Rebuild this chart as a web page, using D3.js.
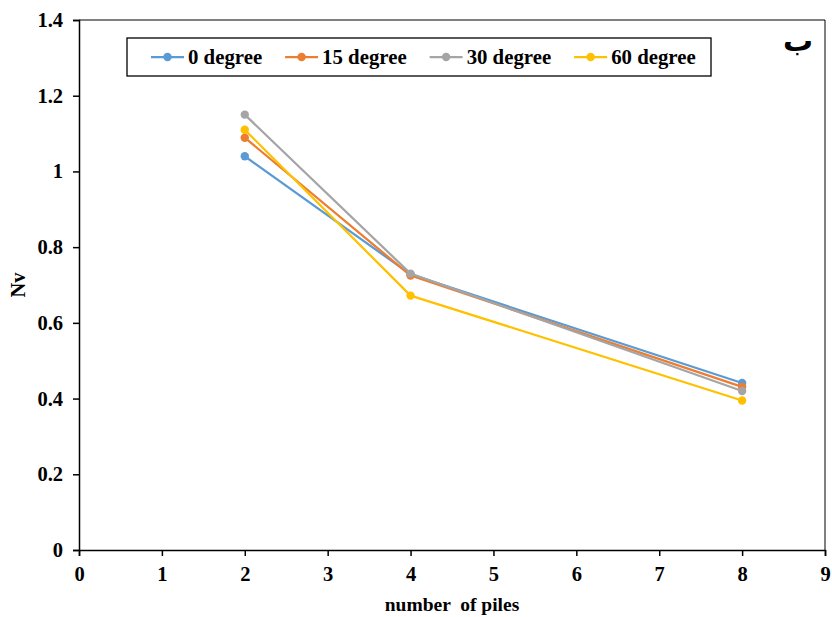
<!DOCTYPE html>
<html>
<head>
<meta charset="utf-8">
<script src="https://cdn.jsdelivr.net/npm/d3@7"></script>
<style>
  html, body { margin: 0; padding: 0; background: #fff; }
  text { font-family: "Liberation Serif", "Times New Roman", serif; font-weight: bold; fill: #000; }
</style>
</head>
<body>
<svg id="chart" width="832" height="617"></svg>
<script>
// ---- data ----
const xValues = [2, 4, 8];
const seriesNames = ["0 degree", "15 degree", "30 degree", "60 degree"];
const series0 = [1.04, 0.728, 0.441];
const series15 = [1.089, 0.725, 0.431];
const series30 = [1.15, 0.730, 0.420];
const series60 = [1.11, 0.672, 0.395];
const seriesColors = ["#5B9BD5", "#ED7D31", "#A5A5A5", "#FFC000"];
const xTicks = [0, 1, 2, 3, 4, 5, 6, 7, 8, 9];
const yTicks = [0, 0.2, 0.4, 0.6, 0.8, 1, 1.2, 1.4];
const xTitle = "number  of piles";
const yTitle = "Nv";
const cornerMark = "ب";

const allSeries = [series0, series15, series30, series60];

const svg = d3.select("#chart");
const pLeft = 79, pRight = 825, pTop = 20, pBottom = 550;

const x = d3.scaleLinear().domain([0, 9]).range([pLeft, pRight]);
const y = d3.scaleLinear().domain([0, 1.4]).range([pBottom, pTop]);

// frame (top & right)
svg.append("line").attr("x1", pLeft).attr("x2", pRight).attr("y1", pTop).attr("y2", pTop)
  .attr("stroke", "#000").attr("stroke-width", 1);
svg.append("line").attr("x1", pRight).attr("x2", pRight).attr("y1", pTop).attr("y2", pBottom)
  .attr("stroke", "#000").attr("stroke-width", 1);

// axes
const xAxis = d3.axisBottom(x).tickValues(xTicks).tickSize(6).tickPadding(10).tickFormat(d3.format("d"));
const yAxis = d3.axisLeft(y).tickValues(yTicks).tickSize(6).tickPadding(10).tickFormat(d => d3.format("")(d));

const gx = svg.append("g").attr("transform", `translate(0,${pBottom})`).call(xAxis);
const gy = svg.append("g").attr("transform", `translate(${pLeft},0)`).call(yAxis);
[gx, gy].forEach(g => {
  g.select(".domain").attr("stroke", "#000").attr("stroke-width", 1.5);
  g.selectAll(".tick line").attr("stroke", "#000").attr("stroke-width", 1.5);
  g.selectAll(".tick text").style("font-family", '"Liberation Serif", serif')
    .style("font-weight", "bold").style("font-size", "20.5px").attr("fill", "#000");
});

// axis titles
svg.append("text").attr("x", (pLeft + pRight) / 2).attr("y", 611)
  .attr("text-anchor", "middle").style("font-size", "19.5px").style("white-space", "pre")
  .attr("xml:space", "preserve").text(xTitle);
svg.append("text").attr("transform", `translate(25,${(pTop + pBottom) / 2}) rotate(-90)`)
  .attr("text-anchor", "middle").style("font-size", "20.5px").text(yTitle);

// lines
const line = d3.line().x((d, i) => x(xValues[i])).y(d => y(d));
allSeries.forEach((s, k) => {
  const g = svg.append("g");
  g.append("path").datum(s).attr("d", line).attr("fill", "none")
    .attr("stroke", seriesColors[k]).attr("stroke-width", 2.25).attr("stroke-linejoin", "round");
  g.selectAll("circle").data(s).join("circle")
    .attr("cx", (d, i) => x(xValues[i])).attr("cy", d => y(d)).attr("r", 4.2)
    .attr("fill", seriesColors[k]);
});

// legend
svg.append("rect").attr("x", 127).attr("y", 38).attr("width", 584).attr("height", 38)
  .attr("fill", "#fff").attr("stroke", "#000").attr("stroke-width", 1.3);
let lx = 151;
const ly = 57;
seriesNames.forEach((name, k) => {
  svg.append("line").attr("x1", lx).attr("x2", lx + 33).attr("y1", ly).attr("y2", ly)
    .attr("stroke", seriesColors[k]).attr("stroke-width", 2.25);
  svg.append("circle").attr("cx", lx + 16.5).attr("cy", ly).attr("r", 4.2).attr("fill", seriesColors[k]);
  const t = svg.append("text").attr("x", lx + 37).attr("y", ly + 7).style("font-size", "20.8px").text(name);
  const w = t.node().getComputedTextLength();
  lx = lx + 37 + w + 23;
});

// corner mark
svg.append("text").attr("x", 798).attr("y", 51).attr("text-anchor", "middle")
  .style("font-family", '"DejaVu Sans", "Noto Sans", sans-serif').style("font-weight", "bold")
  .style("font-size", "30px").text(cornerMark);
</script>
</body>
</html>
